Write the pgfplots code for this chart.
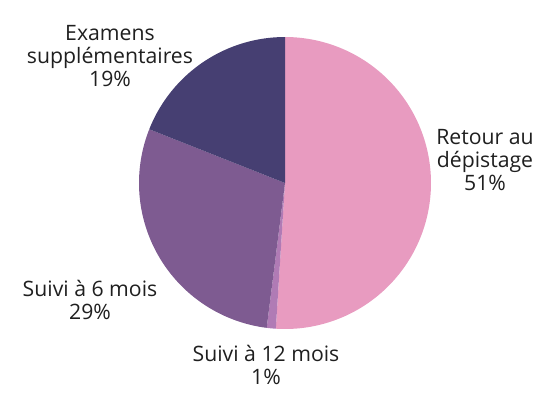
\documentclass[border=0pt]{standalone}
\usepackage{pgfplots}
\pgfplotsset{compat=1.18}
\usepgfplotslibrary{polar}
\usepackage{fontspec}
\setmainfont{Open Sans}
\definecolor{cRetour}{HTML}{E89BC0}
\definecolor{cDouze}{HTML}{B07BB5}
\definecolor{cSix}{HTML}{7E5B91}
\definecolor{cExam}{HTML}{463F72}
\begin{document}
\begin{tikzpicture}[x=1bp,y=1bp]
\useasboundingbox (-285,-217) rectangle (265,183);
% shares in percent
\def\pA{51}\def\pB{1}\def\pC{29}\def\pD{19}
\pgfmathsetmacro{\aA}{90}
\pgfmathsetmacro{\aB}{\aA-3.6*\pA}
\pgfmathsetmacro{\aC}{\aB-3.6*\pB}
\pgfmathsetmacro{\aD}{\aC-3.6*\pC}
\pgfmathsetmacro{\aE}{\aD-3.6*\pD}
\begin{polaraxis}[
  at={(0,0)}, anchor=origin,
  width=292bp, height=292bp, scale only axis,
  ymin=0, ymax=1, hide axis, clip=false,
]
\addplot[fill=cRetour, draw=none, domain=\aB:\aA, samples=120] {1} -- (axis cs:0,0) -- cycle;
\addplot[fill=cDouze, draw=none, domain=\aC:\aB, samples=10] {1} -- (axis cs:0,0) -- cycle;
\addplot[fill=cSix, draw=none, domain=\aD:\aC, samples=80] {1} -- (axis cs:0,0) -- cycle;
\addplot[fill=cExam, draw=none, domain=\aE:\aD, samples=60] {1} -- (axis cs:0,0) -- cycle;
\end{polaraxis}
\begin{scope}[every node/.style={align=center, font=\fontsize{21.3}{23.5}\selectfont, text=black!88, inner sep=0pt}]
\node at (-175,127) {Examens\\supplémentaires\\19\%};
\node at (200,23) {Retour au\\dépistage\\51\%};
\node at (-195,-117) {Suivi à 6 mois\\29\%};
\node at (-19,-182) {Suivi à 12 mois\\1\%};
\end{scope}
\end{tikzpicture}
\end{document}
